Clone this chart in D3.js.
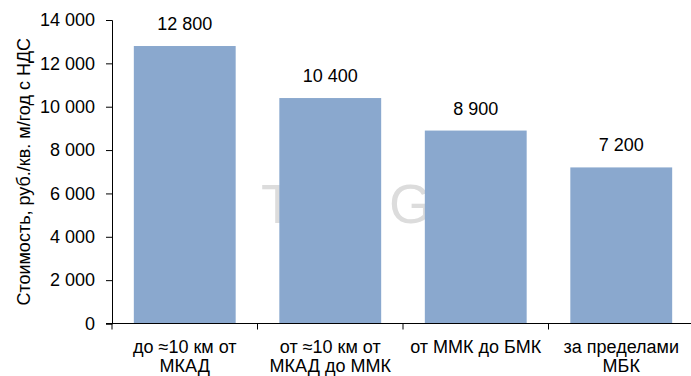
<!DOCTYPE html>
<html>
<head>
<meta charset="utf-8">
<script src="https://cdn.jsdelivr.net/npm/d3@7"></script>
<style>
  body { margin: 0; background: #fff; }
  text { font-family: "Liberation Sans", Arial, sans-serif; }
</style>
</head>
<body>
<main></main>
<script>
var width = 691;
var height = 376;

var categories = [
  ['до ≈10 км от', 'МКАД'],
  ['от ≈10 км от', 'МКАД до ММК'],
  ['от ММК до БМК'],
  ['за пределами', 'МБК']
];
var values = [12800, 10400, 8900, 7200];
var yTicks = [0, 2000, 4000, 6000, 8000, 10000, 12000, 14000];
var yTitle = 'Стоимость, руб./кв. м/год с НДС';

var margin = { left: 112, right: -3, top: 20, bottom: 52.5 };
var fmt = function(v) { return d3.format(',')(v).replace(/,/g, ' '); };

var svg = d3.select('main').append('svg')
  .attr('width', width)
  .attr('height', height);

var x = d3.scaleBand()
  .domain(d3.range(categories.length))
  .range([margin.left, width - margin.right])
  .paddingInner(0.3)
  .paddingOuter(0.15);

var y = d3.scaleLinear()
  .domain([0, 14000])
  .range([height - margin.bottom, margin.top]);

// watermark, sits behind the bars
svg.append('text')
  .attr('x', 261).attr('y', 223)
  .attr('font-size', 55).attr('fill', '#dcdcdc')
  .text('T');
svg.append('text')
  .attr('x', 389).attr('y', 223)
  .attr('font-size', 55).attr('fill', '#dcdcdc')
  .text('G');

svg.selectAll('.bar')
  .data(values)
  .enter().append('rect')
  .attr('class', 'bar')
  .attr('x', function(d, i) { return x(i); })
  .attr('y', function(d) { return y(d); })
  .attr('width', x.bandwidth())
  .attr('height', function(d) { return y(0) - y(d); })
  .attr('fill', '#8aa8ce');

svg.selectAll('.val')
  .data(values)
  .enter().append('text')
  .attr('class', 'val')
  .attr('x', function(d, i) { return x(i) + x.bandwidth() / 2; })
  .attr('y', function(d) { return y(d) - 16; })
  .attr('text-anchor', 'middle')
  .attr('font-size', 18)
  .attr('fill', '#000')
  .text(function(d) { return fmt(d); });

// y axis
var yAxis = svg.append('g')
  .attr('transform', 'translate(' + margin.left + ',0)')
  .call(d3.axisLeft(y).tickValues(yTicks).tickSize(6).tickPadding(11).tickFormat(fmt));
yAxis.select('.domain').attr('stroke', '#000');
yAxis.selectAll('.tick line').attr('stroke', '#000');
yAxis.selectAll('.tick text')
  .attr('font-size', 18)
  .attr('font-family', '"Liberation Sans", Arial, sans-serif')
  .attr('fill', '#000');

// x axis
var xAxis = svg.append('g')
  .attr('transform', 'translate(0,' + y(0) + ')');
xAxis.append('line')
  .attr('x1', margin.left - 6).attr('x2', width)
  .attr('stroke', '#000');
xAxis.selectAll('.xtick')
  .data(d3.range(categories.length + 1))
  .enter().append('line')
  .attr('x1', function(i) { return margin.left + i * x.step(); })
  .attr('x2', function(i) { return margin.left + i * x.step(); })
  .attr('y1', 0).attr('y2', 6)
  .attr('stroke', '#000');

var labels = svg.selectAll('.xlab')
  .data(categories)
  .enter().append('text')
  .attr('class', 'xlab')
  .attr('text-anchor', 'middle')
  .attr('font-size', 18)
  .attr('fill', '#000');
labels.selectAll('tspan')
  .data(function(d, i) { return d.map(function(s) { return { s: s, i: i }; }); })
  .enter().append('tspan')
  .attr('x', function(d) { return x(d.i) + x.bandwidth() / 2; })
  .attr('y', function(d, j) { return y(0) + 29.5 + j * 18.5; })
  .text(function(d) { return d.s; });

svg.append('text')
  .attr('transform', 'translate(30,' + (y(0) + y(14000)) / 2 + ') rotate(-90)')
  .attr('text-anchor', 'middle')
  .attr('font-size', 18)
  .attr('fill', '#000')
  .text(yTitle);
</script>
</body>
</html>
